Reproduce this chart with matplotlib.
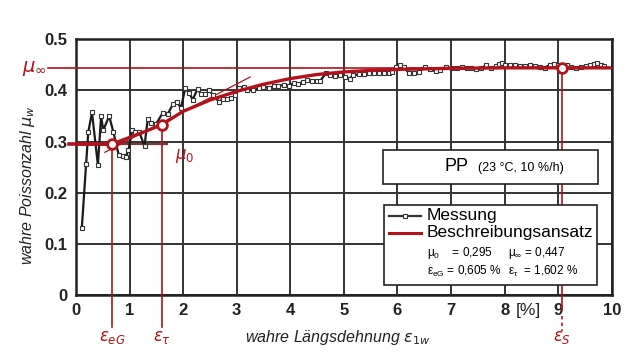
import matplotlib
matplotlib.use("Agg")
from matplotlib import pyplot as plt

plt.rcParams['font.family'] = ['Liberation Sans', 'DejaVu Sans']
plt.rcParams['mathtext.fontset'] = 'dejavusans'

# measured points (wahre Laengsdehnung in %, wahre Poissonzahl)
meas_x = [0.11, 0.19, 0.23, 0.30, 0.41, 0.47, 0.51, 0.62, 0.70, 0.80,
          0.87, 0.93, 0.98, 1.05, 1.11, 1.18, 1.28, 1.34, 1.40, 1.50,
          1.62, 1.71, 1.81, 1.88, 1.96, 2.04, 2.11, 2.18, 2.27, 2.34,
          2.41, 2.49, 2.56, 2.67, 2.74, 2.82, 2.90, 2.97, 3.04, 3.13,
          3.19, 3.31, 3.41, 3.50, 3.60, 3.69, 3.78, 3.88, 3.97, 4.06,
          4.14, 4.23, 4.31, 4.41, 4.50, 4.56, 4.67, 4.75, 4.84, 4.93,
          5.02, 5.11, 5.17, 5.28, 5.37, 5.46, 5.56, 5.65, 5.74, 5.84,
          5.90, 5.98, 6.04, 6.12, 6.21, 6.30, 6.40, 6.52, 6.61, 6.71,
          6.80, 6.90, 7.02, 7.11, 7.20, 7.29, 7.38, 7.47, 7.56, 7.65,
          7.74, 7.83, 7.89, 7.95, 8.01, 8.10, 8.20, 8.28, 8.38, 8.47,
          8.57, 8.66, 8.75, 8.84, 8.92, 9.00, 9.08, 9.16, 9.24, 9.34,
          9.43, 9.52, 9.60, 9.67, 9.73, 9.79, 9.86]
meas_y = [0.131, 0.256, 0.318, 0.357, 0.254, 0.350, 0.322, 0.350, 0.318, 0.273,
          0.271, 0.270, 0.283, 0.322, 0.319, 0.319, 0.291, 0.344, 0.337, 0.335,
          0.356, 0.353, 0.373, 0.378, 0.366, 0.404, 0.395, 0.382, 0.403, 0.392,
          0.392, 0.400, 0.390, 0.378, 0.383, 0.383, 0.385, 0.390, 0.404, 0.407,
          0.401, 0.400, 0.404, 0.407, 0.405, 0.408, 0.408, 0.411, 0.409, 0.414,
          0.413, 0.416, 0.420, 0.419, 0.419, 0.419, 0.434, 0.430, 0.428, 0.430,
          0.427, 0.423, 0.430, 0.431, 0.432, 0.433, 0.433, 0.433, 0.434, 0.434,
          0.436, 0.446, 0.450, 0.445, 0.434, 0.434, 0.436, 0.445, 0.442, 0.437,
          0.440, 0.445, 0.443, 0.443, 0.446, 0.443, 0.444, 0.441, 0.443, 0.449,
          0.443, 0.447, 0.452, 0.453, 0.450, 0.449, 0.449, 0.448, 0.447, 0.449,
          0.447, 0.446, 0.444, 0.450, 0.452, 0.450, 0.446, 0.449, 0.446, 0.444,
          0.446, 0.448, 0.450, 0.452, 0.454, 0.450, 0.448]

# model curve (Beschreibungsansatz)
model_x = [0.0, 0.67, 1.0, 1.3, 1.6, 2.0, 2.5, 3.0, 3.5, 4.0, 4.5, 5.0,
           5.5, 6.0, 7.0, 8.0, 9.0, 9.95]
model_y = [0.295, 0.295, 0.308, 0.320, 0.333, 0.359, 0.381, 0.398, 0.412, 0.423,
           0.431, 0.436, 0.439, 0.441, 0.443, 0.444, 0.444, 0.444]

# characteristic points
eps_eG, eps_tau, eps_S = 0.67, 1.60, 9.07
mu_0, mu_tau, mu_inf = 0.295, 0.333, 0.443
tangent_x = [0.54, 3.25]
tangent_y = [0.279, 0.426]

red = '#b3121a'

fig = plt.figure(figsize=(6.38, 3.56), dpi=100)
ax = fig.add_axes([0.119, 0.171, 0.840, 0.719])
ax.set_xlim(0, 10)
ax.set_ylim(0, 0.5)
ax.set_xticks(range(0, 11))
ax.set_yticks([0, 0.1, 0.2, 0.3, 0.4, 0.5])
ax.set_yticklabels(['0', '0.1', '0.2', '0.3', '0.4', '0.5'])
ax.grid(True, color='#333333', linewidth=1.4)
ax.set_axisbelow(True)
for s in ax.spines.values():
    s.set_linewidth(1.8)
    s.set_color('#222222')
ax.tick_params(length=0, pad=6, labelsize=12)
for lab in ax.get_xticklabels() + ax.get_yticklabels():
    lab.set_fontweight('bold')
    lab.set_color('#222222')

# construction lines
ax.plot([-0.53, 10], [mu_inf, mu_inf], color=red, lw=1.2, clip_on=False, zorder=3)
ax.plot([-0.12, eps_eG], [mu_0, mu_0], color=red, lw=2.6, clip_on=False, zorder=4)
ax.plot([eps_eG, 1.7], [mu_0, mu_0], color='#7a3a3a', lw=1.6, zorder=3)
ax.plot(tangent_x, tangent_y, color=red, lw=0.9, zorder=4)
ax.plot([eps_eG, eps_eG], [mu_0, -0.063], color=red, lw=1.2, clip_on=False, zorder=3)
ax.plot([eps_tau, eps_tau], [mu_tau, -0.063], color=red, lw=1.2, clip_on=False, zorder=3)
ax.plot([eps_S, eps_S], [mu_inf, -0.03], color=red, lw=1.2, clip_on=False, zorder=3)
ax.plot([eps_S, eps_S], [-0.04, -0.07], color=red, lw=1.2, ls=(0, (2, 2)),
        clip_on=False, zorder=3)

# measurement
ax.plot(meas_x, meas_y, color='#1a1a1a', lw=1.6, marker='s', ms=3.4,
        mfc='white', mec='#333333', mew=0.8, zorder=5)
# model
ax.plot(model_x, model_y, color=red, lw=2.4, zorder=6)
ax.plot([eps_eG, eps_tau, eps_S], [mu_0, mu_tau, mu_inf], ls='none', marker='o',
        ms=7, mfc='white', mec=red, mew=2, zorder=7)

# red labels
ax.text(-0.55, mu_inf, r'$\mu_\infty$', color=red, fontsize=14, ha='right',
        va='center', clip_on=False)
ax.text(1.85, 0.272, r'$\mu_0$', color=red, fontsize=12, ha='left', va='center')
for xe, lbl in [(eps_eG, r'$\varepsilon_{eG}$'), (eps_tau, r'$\varepsilon_\tau$'),
                (eps_S, r'$\varepsilon_S$')]:
    ax.text(xe, -0.082, lbl, color=red, fontsize=12, ha='center', va='center',
            clip_on=False)

ax.text(8.45, -0.03, '[%]', fontsize=12.5, ha='center', va='center', color='#222222',
        clip_on=False)
ax.text(4.88, -0.082, r'wahre Längsdehnung $\varepsilon_{1w}$', fontsize=11.5,
        style='italic', ha='center', va='center', color='#222222', clip_on=False)
ax.text(-0.9, 0.215, r'wahre Poissonzahl $\mu_w$', fontsize=11.5, style='italic',
        rotation=90, ha='center', va='center', color='#222222', clip_on=False)

# PP box
pp = plt.Rectangle((5.73, 0.218), 4.02, 0.065, facecolor='white', edgecolor='#222222',
                   lw=1.2, zorder=8)
ax.add_patch(pp)
ax.text(6.88, 0.2505, 'PP', fontsize=13, ha='left', va='center', zorder=9)
ax.text(7.50, 0.2485, '(23 °C, 10 %/h)', fontsize=9, ha='left', va='center', zorder=9)

# legend box
lg = plt.Rectangle((5.74, 0.019), 3.99, 0.157, facecolor='white', edgecolor='#222222',
                   lw=1.2, zorder=8)
ax.add_patch(lg)
ax.plot([5.84, 6.44], [0.155, 0.155], color='#333333', lw=1.6, zorder=9)
ax.plot([6.14], [0.155], marker='s', ms=3, mfc='white', mec='#333333', mew=0.8, zorder=10)
ax.plot([5.84, 6.44], [0.122, 0.122], color=red, lw=2.2, zorder=9)
ax.text(6.55, 0.155, 'Messung', fontsize=12.5, ha='left', va='center', zorder=9)
ax.text(6.55, 0.122, 'Beschreibungsansatz', fontsize=12.5, ha='left', va='center', zorder=9)
ax.text(6.55, 0.083, r'$\mathregular{\mu_0}$    = 0,295', fontsize=8.5, ha='left',
        va='center', zorder=9)
ax.text(8.07, 0.083, r'$\mathregular{\mu_\infty}$ = 0,447', fontsize=8.5, ha='left',
        va='center', zorder=9)
ax.text(6.55, 0.047, r'$\mathregular{\varepsilon_{eG}}$ = 0,605 %', fontsize=8.5,
        ha='left', va='center', zorder=9)
ax.text(8.07, 0.047, r'$\mathregular{\varepsilon_\tau}$  = 1,602 %', fontsize=8.5,
        ha='left', va='center', zorder=9)

fig.savefig('out.png', dpi=100)
